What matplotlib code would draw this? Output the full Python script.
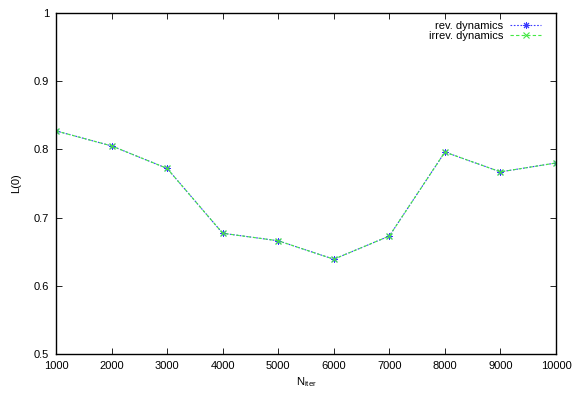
import matplotlib
matplotlib.use("Agg")
import matplotlib.pyplot as plt
from matplotlib.ticker import FormatStrFormatter

n_iter = [1000, 2000, 3000, 4000, 5000, 6000, 7000, 8000, 9000, 10000]
rev_L0 = [0.827, 0.805, 0.772, 0.677, 0.666, 0.639, 0.673, 0.796, 0.767, 0.780]
irrev_L0 = [0.827, 0.805, 0.772, 0.677, 0.666, 0.639, 0.673, 0.796, 0.767, 0.780]
x_ticks = [1000, 2000, 3000, 4000, 5000, 6000, 7000, 8000, 9000, 10000]
y_ticks = [0.5, 0.6, 0.7, 0.8, 0.9, 1.0]

plt.rcParams["font.family"] = ["Liberation Sans", "DejaVu Sans"]
plt.rcParams["font.size"] = 8

fig = plt.figure(figsize=(5.72, 4.01), dpi=100)
ax = fig.add_axes([0.098, 0.117, 0.874, 0.851])

# gnuplot-like asterisk (8 spokes) for the reversible run
ax.plot(n_iter, rev_L0, color="#3a3aff", linestyle=(0, (1.5, 1.5)), linewidth=0.8,
        marker=(8, 2, 0), markersize=5, markeredgewidth=0.7, label="rev. dynamics")
ax.plot(n_iter, irrev_L0, color="#44e844", linestyle=(0, (3, 2)), linewidth=0.8,
        marker="x", markersize=4.5, markeredgewidth=0.8, label="irrev. dynamics")

ax.set_xlim(1000, 10000)
ax.set_ylim(0.5, 1.0)
ax.set_xticks(x_ticks)
ax.set_yticks(y_ticks)
ax.yaxis.set_major_formatter(FormatStrFormatter("%g"))
ax.tick_params(direction="in", top=True, right=True, length=4, width=0.6, pad=5)
for side in ax.spines.values():
    side.set_linewidth(1.0)

ax.set_xlabel(r"N$_{\mathregular{iter}}$", labelpad=3)
ax.set_ylabel("L(0)", labelpad=9)

ax.legend(loc="upper right", bbox_to_anchor=(0.975, 0.983), frameon=False,
          markerfirst=False, handlelength=2.8, borderaxespad=0.0,
          labelspacing=-0.02, handletextpad=0.6, borderpad=0.2)

fig.savefig("out.png", dpi=100)
